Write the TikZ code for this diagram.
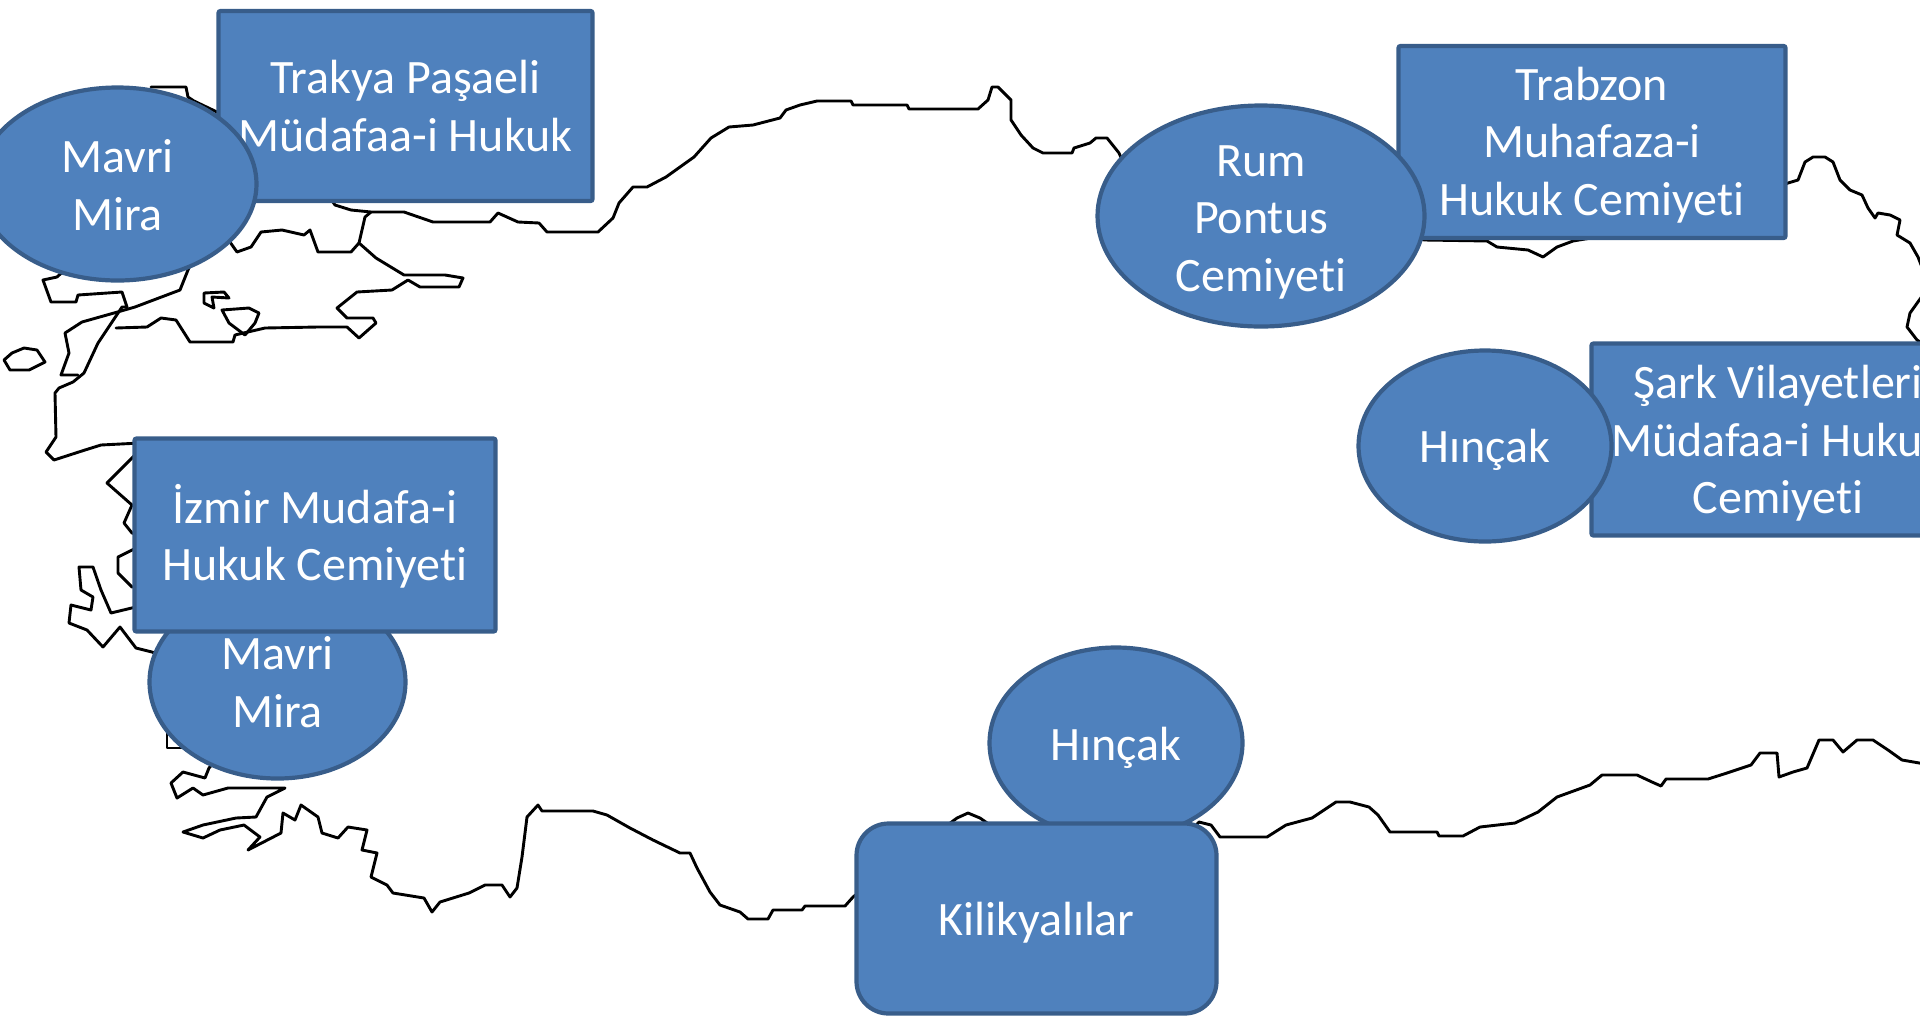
\documentclass[tikz,border=0pt]{standalone}
\usepackage{fontspec}
\setmainfont{Carlito}[RawFeature={-liga}]
\usetikzlibrary{shapes.geometric}
\definecolor{boxfill}{HTML}{4F81BD}
\definecolor{boxline}{HTML}{385D8A}
\newcommand{\lowertext}[2]{\raisebox{-#1}[\height][\depth]{#2}}
\tikzset{
  coast/.style={draw=black,line width=1.45pt,line join=round,line cap=round},
  shapetext/.style={fill=boxfill,draw=boxline,line width=2.1pt,text=white,align=center,inner sep=0pt,
    font=\fontsize{24}{28.75}\selectfont},
  oval/.style 2 args={shapetext,ellipse,minimum width=#1*0.5pt,minimum height=#2*0.5pt},
  panel/.style 2 args={shapetext,rectangle,rounded corners=1pt,minimum width=#1*0.5pt,minimum height=#2*0.5pt},
  softpanel/.style 2 args={shapetext,rectangle,rounded corners=16pt,minimum width=#1*0.5pt,minimum height=#2*0.5pt},
}
\begin{document}
\begin{tikzpicture}[x=0.5pt,y=-0.5pt]
\clip (0,0) rectangle (1920,1019);
% northern coast
\path[coast] (151,87) -- (186,87) -- (188,97) -- (194,101) -- (217,112) -- (330,198) -- (335,205) -- (351,210) -- (371,212) -- (404,212) -- (433,222) -- (490,222) -- (498,213) -- (518,222) -- (539,223) -- (547,232) -- (598,232) -- (613,218) -- (619,203) -- (633,187) -- (647,187) -- (666,177) -- (694,157) -- (711,138) -- (729,127) -- (753,125) -- (780,118) -- (786,110) -- (800,105) -- (817,101) -- (851,101) -- (853,105) -- (907,105) -- (909,109) -- (978,109) -- (988,100) -- (992,87) -- (998,87) -- (1011,100) -- (1011,120) -- (1021,135) -- (1033,148) -- (1043,153) -- (1072,153) -- (1074,148) -- (1090,143) -- (1096,138) -- (1107,138) -- (1119,153) -- (1140,200) -- (1425,240) -- (1487,241) -- (1497,247) -- (1528,250) -- (1543,257) -- (1557,247) -- (1573,241) -- (1700,220) -- (1788,183) -- (1798,180) -- (1805,162) -- (1813,157) -- (1825,157) -- (1833,162) -- (1840,180) -- (1850,190) -- (1862,195) -- (1868,208) -- (1875,218) -- (1878,213) -- (1890,215) -- (1900,220) -- (1897,235) -- (1910,243) -- (1918,257) -- (1925,275);
\path[coast] (1925,292) -- (1910,313) -- (1907,327) -- (1917,340) -- (1925,345);
% southern coast
\path[coast] (1925,764) -- (1902,760) -- (1888,750) -- (1873,740) -- (1857,740) -- (1843,752) -- (1833,740) -- (1819,740) -- (1807,768) -- (1793,772) -- (1779,777) -- (1777,753) -- (1760,753) -- (1751,765) -- (1727,773) -- (1708,779) -- (1666,779) -- (1661,786) -- (1652,782) -- (1637,775) -- (1602,775) -- (1590,785) -- (1557,797) -- (1538,812) -- (1515,823) -- (1480,827) -- (1463,836) -- (1439,836) -- (1437,832) -- (1390,832) -- (1378,815) -- (1369,807) -- (1350,802) -- (1336,802) -- (1312,818) -- (1286,825) -- (1267,837) -- (1220,837) -- (1211,825) -- (1199,822) -- (1190,832) -- (1000,832) -- (980,818) -- (968,813) -- (957,818) -- (900,860) -- (853,897) -- (845,906) -- (805,906) -- (802,910) -- (773,910) -- (768,919) -- (748,919) -- (740,912) -- (720,905) -- (710,892) -- (697,868) -- (690,853) -- (680,853) -- (653,840) -- (630,828) -- (607,815) -- (593,811) -- (542,811) -- (538,805) -- (527,817) -- (522,857) -- (517,888) -- (510,897) -- (502,885) -- (485,885) -- (469,893) -- (440,902) -- (432,912) -- (424,898) -- (393,893) -- (387,885) -- (371,877) -- (377,853) -- (362,850) -- (367,830) -- (348,827) -- (338,838) -- (322,833) -- (318,817) -- (301,805) -- (295,820) -- (283,813) -- (281,833) -- (248,850) -- (260,837) -- (244,825) -- (220,830) -- (203,838) -- (183,832) -- (203,825) -- (236,818) -- (256,817) -- (267,797) -- (285,788) -- (228,788) -- (203,795) -- (193,788) -- (177,798) -- (171,783) -- (183,772) -- (205,778) -- (209,768) -- (225,750);
\path[coast] (167,732) -- (167,748) -- (190,748);
% western coast and islands
\path[coast] (170,660) -- (152,652) -- (136,648) -- (120,627) -- (103,647) -- (87,630) -- (69,623) -- (71,605) -- (91,610) -- (93,597) -- (81,590) -- (79,567) -- (93,567) -- (101,590) -- (111,613) -- (140,606);
\path[coast] (140,587) -- (132,587) -- (118,573) -- (118,557) -- (140,546);
\path[coast] (140,535) -- (132,533) -- (124,523) -- (132,505) -- (107,483) -- (140,450);
\path[coast] (140,443) -- (101,445) -- (85,450) -- (54,460) -- (46,452) -- (56,437) -- (55,393) -- (59,388) -- (73,382) -- (84,373) -- (98,343) -- (122,307) -- (127,307) -- (122,292) -- (78,295) -- (76,302) -- (51,302) -- (43,280) -- (57,277) -- (70,265);
\path[coast] (78,375) -- (61,375) -- (69,353) -- (65,333) -- (82,322) -- (114,313) -- (135,307) -- (180,290) -- (188,270) -- (195,255);
\path[coast] (116,328) -- (147,327) -- (161,318) -- (176,320) -- (190,342) -- (233,342) -- (235,335) -- (265,328) -- (318,327) -- (327,327) -- (347,327) -- (359,338) -- (376,323) -- (373,318) -- (347,318) -- (337,308) -- (357,292) -- (392,290) -- (408,280) -- (420,287) -- (459,287) -- (463,278) -- (445,275) -- (404,275) -- (376,258) -- (359,243) -- (365,217) -- (371,212);
\path[coast] (359,243) -- (351,252) -- (318,252) -- (310,230) -- (304,235) -- (282,230) -- (261,232) -- (251,247) -- (237,252) -- (225,235);
\path[coast] (222,310) -- (249,308) -- (259,313) -- (255,323) -- (245,335) -- (229,323) -- cycle;
\path[coast] (204,293) -- (224,292) -- (229,298) -- (212,297) -- (214,308) -- (204,303) -- cycle;
\path[coast] (24,348) -- (37,350) -- (45,362) -- (29,370) -- (10,370) -- (4,360) -- (12,353) -- cycle;
% labelled shapes
\node[panel={374}{190}] (trakya) at (405.5,106) {Trakya Paşaeli\\Müdafaa-i Hukuk};
\node[oval={278}{193}] (mavriA) at (117.5,184) {\lowertext{0.6pt}{Mavri}\\\lowertext{0.6pt}{Mira}};
\node[panel={387}{192}] (trabzon) at (1592,142) {\lowertext{1.5pt}{Trabzon}\\\lowertext{1.5pt}{Muhafaza-i}\\\lowertext{1.5pt}{Hukuk Cemiyeti}};
\node[oval={327}{221}] (rum) at (1261,216) {\lowertext{3pt}{Rum}\\\lowertext{3pt}{Pontus}\\\lowertext{3pt}{Cemiyeti}};
\node[panel={373}{192}] (sark) at (1778,439.5) {\lowertext{1.9pt}{Şark Vilayetleri}\\\lowertext{1.9pt}{Müdafaa-i Hukuk}\\\lowertext{1.9pt}{Cemiyeti}};
\node[oval={253}{191}] (hincakA) at (1485,446) {\lowertext{1.9pt}{Hınçak}};
\node[oval={256}{193}] (mavriB) at (277.5,682) {Mavri\\Mira};
\node[panel={361}{193}] (izmir) at (315,535) {\lowertext{0.6pt}{İzmir Mudafa-i}\\\lowertext{0.6pt}{Hukuk Cemiyeti}};
\node[oval={253}{191}] (hincakB) at (1116,743) {\lowertext{2.4pt}{Hınçak}};
\node[softpanel={360}{190}] (kilikya) at (1036.5,918.5) {\lowertext{1.9pt}{Kilikyalılar}};
\end{tikzpicture}
\end{document}
